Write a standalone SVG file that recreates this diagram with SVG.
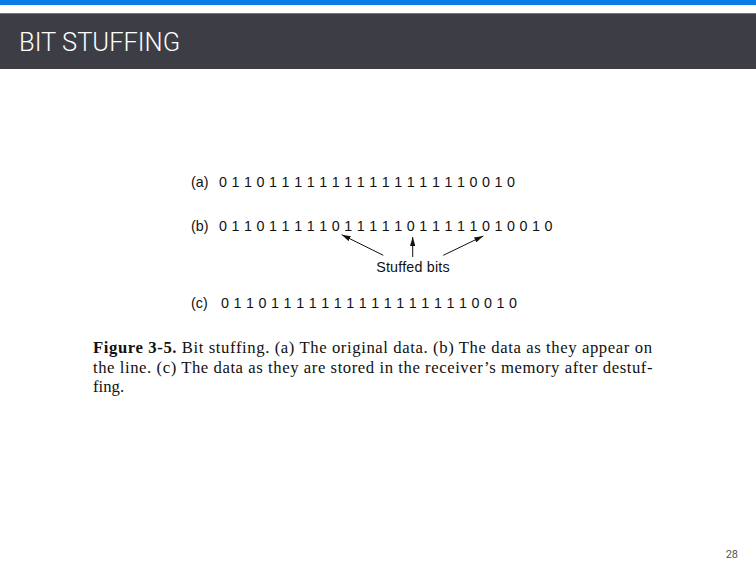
<svg xmlns="http://www.w3.org/2000/svg" width="756" height="567" viewBox="0 0 756 567">
<style>
.bits{font-family:"Liberation Sans",Arial,sans-serif;font-size:14.3px;fill:#111;letter-spacing:0.3px}
.lbl{font-family:"Liberation Sans",Arial,sans-serif;font-size:14.3px;fill:#111}
.cap{font-family:"Liberation Serif","Times New Roman",serif;font-size:16.7px;fill:#111}
.arr{stroke:#111;stroke-width:1;fill:none;marker-end:url(#ah)}
</style>
<defs>
<marker id="ah" viewBox="0 0 10 6" refX="10" refY="3" markerWidth="9" markerHeight="5.4" markerUnits="userSpaceOnUse" orient="auto">
<path d="M0,0 L10,3 L0,6 Z" fill="#111"/>
</marker>
</defs>
<rect width="756" height="567" fill="#fff"/>
<g id="header">
<rect x="0" y="0" width="756" height="5" fill="#0b7be6"/>
<rect x="0" y="13.3" width="756" height="55.7" fill="#3d3e45"/>
<text x="19" y="51" font-family="Roboto,'Noto Sans',sans-serif" font-weight="300" font-size="25.5" fill="#fff">BIT STUFFING</text>
</g>
<g id="row-a">
<text class="lbl" x="191" y="186.7">(a)</text>
<text class="bits" x="219" y="186.7">0 1 1 0 1 1 1 1 1 1 1 1 1 1 1 1 1 1 1 1 0 0 1 0</text>
</g>
<g id="row-b">
<text class="lbl" x="191" y="230.5">(b)</text>
<text class="bits" x="219" y="230.5">0 1 1 0 1 1 1 1 1 0 1 1 1 1 1 0 1 1 1 1 1 0 1 0 0 1 0</text>
</g>
<g id="stuffed-label">
<text class="lbl" x="413" y="272" text-anchor="middle" letter-spacing="0.2">Stuffed bits</text>
</g>
<g id="connectors">
<line class="arr" x1="383.3" y1="255.3" x2="341.7" y2="234.7"/>
<line class="arr" x1="412.7" y1="257" x2="412.7" y2="237"/>
<line class="arr" x1="443.3" y1="255.3" x2="483.3" y2="236"/>
</g>
<g id="row-c">
<text class="lbl" x="191" y="308">(c)</text>
<text class="bits" x="221" y="308">0 1 1 0 1 1 1 1 1 1 1 1 1 1 1 1 1 1 1 1 0 0 1 0</text>
</g>
<g id="caption">
<text class="cap" x="93" y="352.7" textLength="559" lengthAdjust="spacing"><tspan font-weight="bold">Figure 3-5.</tspan> Bit stuffing.  (a) The original data.  (b) The data as they appear on</text>
<text class="cap" x="93" y="372.5" textLength="559.5" lengthAdjust="spacing">the line.  (c) The data as they are stored in the receiver’s memory after destuf-</text>
<text class="cap" x="93" y="392.3">fing.</text>
</g>
<g id="page-number">
<text x="738" y="558" text-anchor="end" font-family="Roboto,'Liberation Sans',sans-serif" font-size="11" fill="#555">28</text>
</g>
</svg>
